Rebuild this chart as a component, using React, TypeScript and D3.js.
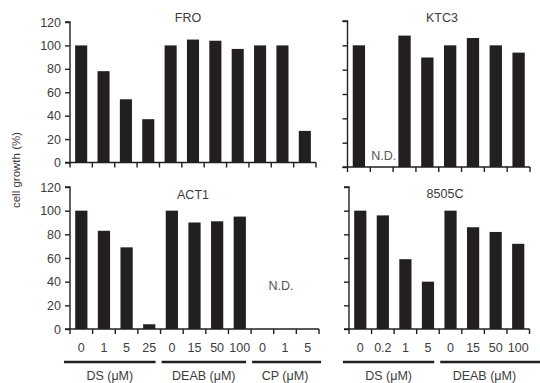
import { useEffect, useRef } from 'react';
import * as d3 from 'd3';

// x categories (doses) for the two columns
const leftCategories = ['0', '1', '5', '25', '0', '15', '50', '100', '0', '1', '5'];
const leftGroupNames = ['DS (μM)', 'DEAB (μM)', 'CP (μM)'];
const leftGroupSizes = [4, 4, 3];
const rightCategories = ['0', '0.2', '1', '5', '0', '15', '50', '100'];
const rightGroupNames = ['DS (μM)', 'DEAB (μM)'];
const rightGroupSizes = [4, 4];

const yTicks = [0, 20, 40, 60, 80, 100, 120];

// cell growth (%) per cell line, null = not determined
const froValues = [100, 78, 54, 37, 100, 105, 104, 97, 100, 100, 27];
const ktc3Values = [100, null, 108, 90, 100, 106, 100, 94];
const act1Values = [100, 83, 69, 4, 100, 90, 91, 95, null, null, null];
const c8505Values = [100, 96, 59, 40, 100, 86, 82, 72];

const BAR = '#231f20';
const TEXT = '#3c3c3c';
const FONT = '"Liberation Sans", Arial, sans-serif';

function App() {
  const svgRef = useRef(null);

  useEffect(() => {
    const svg = d3.select(svgRef.current);
    svg.selectAll('*').remove();

    const panels = [
      { title: 'FRO', values: froValues, cats: leftCategories, x0: 70, x1: 316, yTop: 22, yBot: 162.5, labels: true, bottom: false, titleX: 188, titleY: 22 },
      { title: 'KTC3', values: ktc3Values, cats: rightCategories, x0: 347.5, x1: 530, yTop: 21, yBot: 167, labels: false, bottom: false, titleX: 442, titleY: 22 },
      { title: 'ACT1', values: act1Values, cats: leftCategories, x0: 70, x1: 319, yTop: 187, yBot: 329, labels: true, bottom: true, titleX: 193, titleY: 198.5, groups: leftGroupNames, sizes: leftGroupSizes, lineEnd: 321 },
      { title: '8505C', values: c8505Values, cats: rightCategories, x0: 349, x1: 529.5, yTop: 187, yBot: 329, labels: false, bottom: true, titleX: 445, titleY: 197.5, groups: rightGroupNames, sizes: rightGroupSizes, lineEnd: 540 },
    ];

    panels.forEach((p) => {
      const x = d3.scaleBand<number>()
        .domain(d3.range(p.cats.length))
        .range([p.x0, p.x1])
        .paddingInner(0.46)
        .paddingOuter(0.23);
      const y = d3.scaleLinear().domain([0, 120]).range([p.yBot, p.yTop]);
      const step = (p.x1 - p.x0) / p.cats.length;

      const g = svg.append('g');

      // bars
      g.selectAll('rect')
        .data(p.values.map((v, i) => ({ v, i })).filter((d) => d.v !== null))
        .join('rect')
        .attr('x', (d) => x(d.i))
        .attr('width', x.bandwidth())
        .attr('y', (d) => y(d.v))
        .attr('height', (d) => y(0) - y(d.v))
        .attr('fill', BAR);

      // y axis
      const yAxis = g.append('g')
        .attr('transform', `translate(${p.x0},0)`)
        .call(d3.axisLeft(y).tickValues(yTicks).tickSize(5).tickFormat(p.labels ? d3.format('d') : () => ''));
      yAxis.select('.domain').attr('stroke', BAR).attr('stroke-width', 1.4).attr('d', `M-5,${p.yTop}H0V${p.yBot}`);
      yAxis.selectAll('.tick line').attr('stroke', BAR).attr('stroke-width', 1.4);
      yAxis.selectAll('.tick text')
        .attr('fill', TEXT)
        .attr('x', -9)
        .style('font-family', FONT)
        .style('font-size', '12.5px');

      // x axis with ticks at category boundaries
      const xa = g.append('g').attr('transform', `translate(0,${p.yBot})`);
      xa.append('line')
        .attr('x1', p.x0 - 5).attr('x2', p.x1)
        .attr('stroke', BAR).attr('stroke-width', 1.4);
      xa.selectAll('line.tk')
        .data(d3.range(p.cats.length + 1))
        .join('line')
        .attr('class', 'tk')
        .attr('x1', (i) => p.x0 + i * step)
        .attr('x2', (i) => p.x0 + i * step)
        .attr('y1', 0).attr('y2', 5)
        .attr('stroke', BAR).attr('stroke-width', 1.4);

      // title
      g.append('text')
        .attr('x', p.titleX).attr('y', p.titleY)
        .attr('text-anchor', 'middle')
        .attr('fill', TEXT)
        .style('font-family', FONT)
        .style('font-size', '12.5px')
        .text(p.title);

      // N.D. labels
      const nd = p.values.map((v, i) => (v === null ? i : -1)).filter((i) => i >= 0);
      if (nd.length) {
        const cx = d3.mean(nd, (i) => x(i) + x.bandwidth() / 2);
        const multi = nd.length > 1;
        g.append('text')
          .attr('x', cx + (multi ? -4 : 2)).attr('y', p.yBot - (multi ? 39.5 : 7.5))
          .attr('text-anchor', 'middle')
          .attr('fill', '#555')
          .style('font-family', FONT)
          .style('font-size', '12.5px')
          .text('N.D.');
      }

      if (p.bottom) {
        g.selectAll('text.cat')
          .data(p.cats)
          .join('text')
          .attr('class', 'cat')
          .attr('x', (_, i) => x(i) + x.bandwidth() / 2)
          .attr('y', 351.5)
          .attr('text-anchor', 'middle')
          .attr('fill', TEXT)
          .style('font-family', FONT)
          .style('font-size', '12.5px')
          .text((d) => d);

        // group underlines and names
        let start = 0;
        p.groups.forEach((name, gi) => {
          const n = p.sizes[gi];
          const last = gi === p.groups.length - 1;
          const gx0 = p.x0 + start * step + (gi === 0 ? -6 : 1);
          const gx1 = last ? p.lineEnd : p.x0 + (start + n) * step - 5;
          g.append('line')
            .attr('x1', gx0).attr('x2', gx1)
            .attr('y1', 362).attr('y2', 362)
            .attr('stroke', BAR).attr('stroke-width', 2.6);
          const mid = last ? p.x0 + (start + n / 2) * step : (gx0 + gx1) / 2;
          g.append('text')
            .attr('x', mid).attr('y', 379.5)
            .attr('text-anchor', 'middle')
            .attr('fill', TEXT)
            .style('font-family', FONT)
            .style('font-size', '12.5px')
            .text(name);
          start += n;
        });
      }
    });

    // shared y label
    svg.append('text')
      .attr('transform', 'translate(20,170) rotate(-90)')
      .attr('text-anchor', 'middle')
      .attr('fill', TEXT)
      .style('font-family', FONT)
      .style('font-size', '11.5px')
      .text('cell growth (%)');
  }, []);

  return (
    <svg
      ref={svgRef}
      width={540}
      height={383}
      style={{ position: 'absolute', left: 0, top: 0, background: '#fff' }}
    />
  );
}

export default App;
